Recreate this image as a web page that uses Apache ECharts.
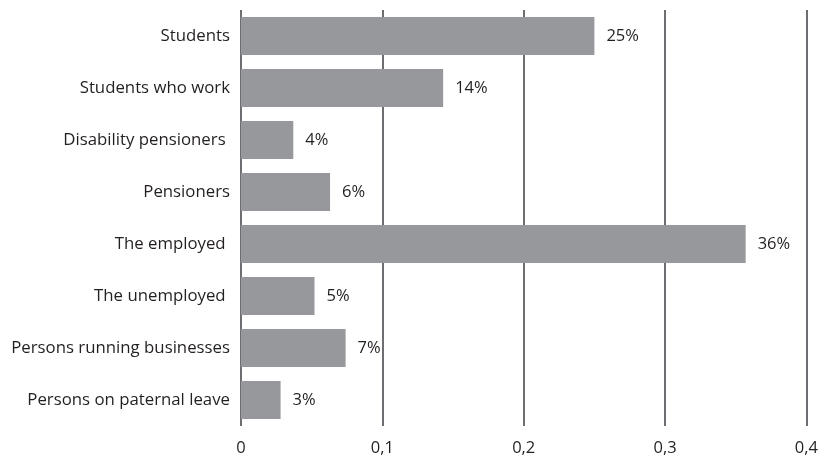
<!DOCTYPE html>
<html>
<head>
<meta charset="utf-8">
<script src="https://cdn.jsdelivr.net/npm/echarts@6/dist/echarts.min.js"></script>
<style>
  html, body { margin: 0; padding: 0; background: #fff; }
  #chart { width: 821px; height: 460px; }
</style>
</head>
<body>
<div id="chart"></div>
<script>
// Groups, top to bottom
const categories = [
  'Students',
  'Students who work',
  'Disability pensioners ',
  'Pensioners',
  'The employed ',
  'The unemployed ',
  'Persons running businesses',
  'Persons on paternal leave'
];
// Share of respondents in each group
const shares = [0.250, 0.143, 0.037, 0.063, 0.357, 0.052, 0.074, 0.028];
// Horizontal axis ticks
const xTicks = [0, 0.1, 0.2, 0.3, 0.4];

const FONT = '"Open Sans", sans-serif';
const chart = echarts.init(document.getElementById('chart'), null, { renderer: 'canvas' });

chart.setOption({
  animation: false,
  grid: { left: 241, right: 12, top: 10, bottom: 34, containLabel: false },
  xAxis: {
    type: 'value',
    min: xTicks[0],
    max: xTicks[xTicks.length - 1],
    interval: 0.1,
    axisLine: { show: false },
    axisTick: { show: false },
    splitLine: { show: true, lineStyle: { color: '#6d6e71', width: 2 } },
    axisLabel: {
      color: '#231f20', fontFamily: FONT, fontSize: 16.5, margin: 14,
      formatter: v => v === 0 ? '0' : v.toFixed(1).replace('.', ',')
    }
  },
  yAxis: {
    type: 'category',
    data: categories,
    inverse: true,
    axisLine: { show: false },
    axisTick: { show: false },
    axisLabel: { color: '#231f20', fontFamily: FONT, fontSize: 16.8, margin: 11 }
  },
  series: [{
    type: 'bar',
    data: shares,
    barCategoryGap: '27%',
    itemStyle: { color: '#97989b' },
    label: {
      show: true,
      position: 'right',
      distance: 12,
      color: '#231f20',
      fontFamily: FONT,
      fontSize: 16.5,
      formatter: p => Math.round(p.value * 100) + '%'
    }
  }]
});
</script>
</body>
</html>
